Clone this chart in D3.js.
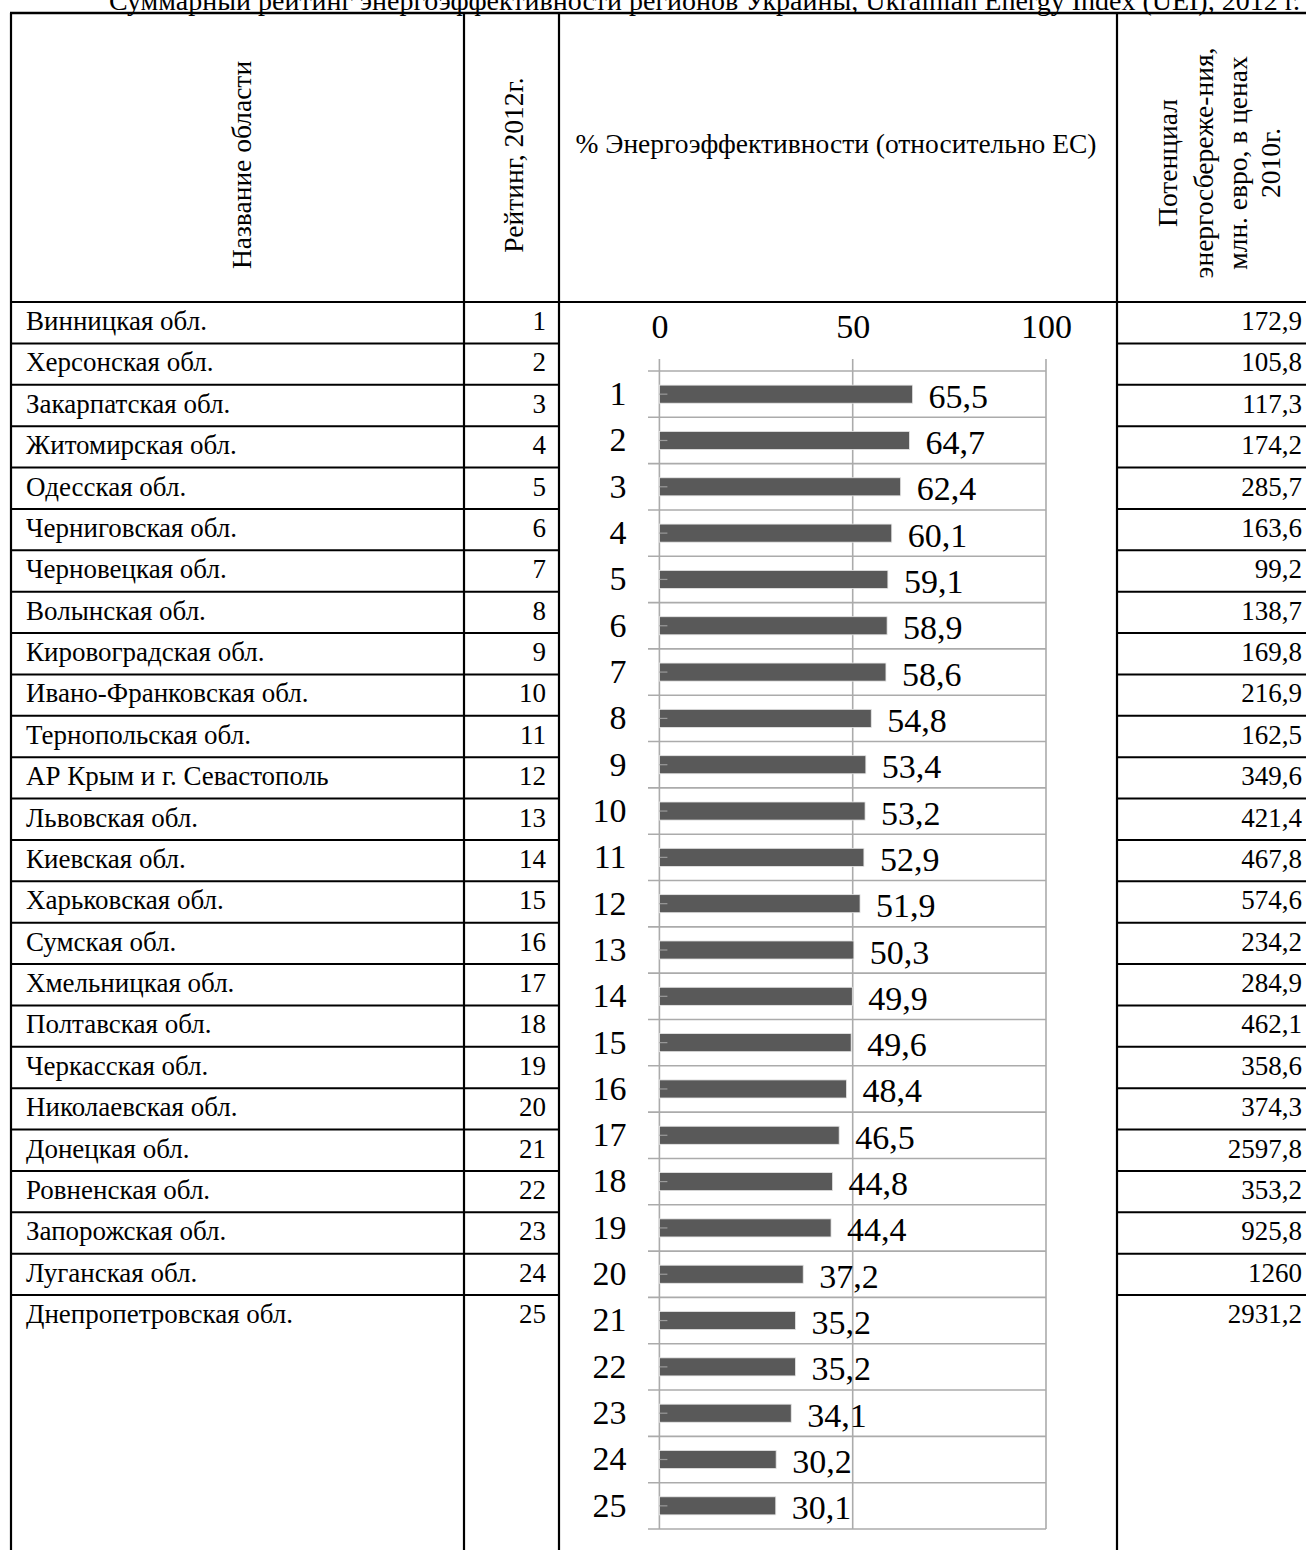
<!DOCTYPE html>
<html><head><meta charset="utf-8">
<script src="https://cdn.jsdelivr.net/npm/d3@7"></script>
<style>
html,body{margin:0;padding:0;background:#fff;}
svg{display:block;}
text{font-family:"Liberation Serif","Times New Roman",serif;fill:#000;}
</style></head>
<body>
<script>
const title = "Суммарный рейтинг энергоэффективности регионов Украины, Ukrainian Energy Index (UEI), 2012 г.";
const regions = ["Винницкая обл.","Херсонская обл.","Закарпатская обл.","Житомирская обл.","Одесская обл.","Черниговская обл.","Черновецкая обл.","Волынская обл.","Кировоградская обл.","Ивано-Франковская обл.","Тернопольская обл.","АР Крым и г. Севастополь","Львовская обл.","Киевская обл.","Харьковская обл.","Сумская обл.","Хмельницкая обл.","Полтавская обл.","Черкасская обл.","Николаевская обл.","Донецкая обл.","Ровненская обл.","Запорожская обл.","Луганская обл.","Днепропетровская обл."];
const ranks = [1,2,3,4,5,6,7,8,9,10,11,12,13,14,15,16,17,18,19,20,21,22,23,24,25];
const efficiency = [65.5,64.7,62.4,60.1,59.1,58.9,58.6,54.8,53.4,53.2,52.9,51.9,50.3,49.9,49.6,48.4,46.5,44.8,44.4,37.2,35.2,35.2,34.1,30.2,30.1];
const potential = [172.9,105.8,117.3,174.2,285.7,163.6,99.2,138.7,169.8,216.9,162.5,349.6,421.4,467.8,574.6,234.2,284.9,462.1,358.6,374.3,2597.8,353.2,925.8,1260,2931.2];
const xTicks = [0,50,100];
const headerName = "Название области";
const headerRank = "Рейтинг, 2012г.";
const headerChart = "% Энергоэффективности (относительно ЕС)";
const headerPotential = ["Потенциал","энергосбереже-ния,","млн. евро, в ценах","2010г."];

const W = 1306, H = 1550;
const svg = d3.select("body").append("svg").attr("width", W).attr("height", H);
svg.append("rect").attr("width", W).attr("height", H).attr("fill", "#fff");

const comma = v => (Number.isInteger(v) ? String(v) : d3.format(".1f")(v)).replace(".", ",");

// table geometry
const colX = [11, 464, 559, 1117];
const tableTop = 13, headTop = 302, rowH = 41.375;
const bodyFont = 27, headFont = 27.5;

// title (cut at top, as in the source page)
svg.append("text").attr("x", 1300).attr("y", 10).attr("text-anchor", "end")
  .attr("font-size", 28).text(title);

// rows grid
const rowLines = d3.range(1, 25).map(k => headTop + k * rowH);
const g = svg.append("g");
g.append("line").attr("x1", 10).attr("x2", W).attr("y1", tableTop).attr("y2", tableTop).attr("stroke", "#000").attr("stroke-width", 2.5);
g.append("line").attr("x1", 10).attr("x2", W).attr("y1", headTop).attr("y2", headTop).attr("stroke", "#000").attr("stroke-width", 2);
colX.forEach(x => g.append("line").attr("x1", x).attr("x2", x).attr("y1", tableTop).attr("y2", H).attr("stroke", "#000").attr("stroke-width", 2.2));
g.selectAll(".rl").data(rowLines).join("line").attr("x1", 10).attr("x2", colX[2]).attr("y1", d => d).attr("y2", d => d).attr("stroke", "#000").attr("stroke-width", 2);
g.selectAll(".rr").data(rowLines).join("line").attr("x1", colX[3]).attr("x2", W).attr("y1", d => d).attr("y2", d => d).attr("stroke", "#000").attr("stroke-width", 2);

// header texts
svg.append("text").attr("transform", "translate(251,165) rotate(-90)").attr("text-anchor", "middle")
  .attr("font-size", headFont).text(headerName);
svg.append("text").attr("transform", "translate(523,165) rotate(-90)").attr("text-anchor", "middle")
  .attr("font-size", headFont).text(headerRank);
svg.append("text").attr("x", 836).attr("y", 153).attr("text-anchor", "middle")
  .attr("font-size", headFont).text(headerChart);
const potX = [1177, 1213, 1247, 1280];
headerPotential.forEach((t, i) => {
  svg.append("text").attr("transform", `translate(${potX[i]},163) rotate(-90)`).attr("text-anchor", "middle")
    .attr("font-size", headFont).text(t);
});

// body texts
const rowTop = i => headTop + i * rowH;
svg.selectAll(".nm").data(regions).join("text").attr("x", 26).attr("y", (d, i) => rowTop(i) + 28)
  .attr("font-size", bodyFont).text(d => d);
svg.selectAll(".rk").data(ranks).join("text").attr("x", 546).attr("y", (d, i) => rowTop(i) + 28)
  .attr("text-anchor", "end").attr("font-size", bodyFont).text(d => d);
svg.selectAll(".pt").data(potential).join("text").attr("x", 1302).attr("y", (d, i) => rowTop(i) + 28)
  .attr("text-anchor", "end").attr("font-size", bodyFont).text(d => comma(d));

// chart
const x = d3.scaleLinear().domain([0, 100]).range([659.4, 1046]);
const y = d3.scaleBand().domain(ranks).range([371, 1529]).paddingInner(0.61).paddingOuter(0.305);
const step = y.step();
const bounds = d3.range(0, 26).map(k => 371 + k * step);
const grid = "#ababab";
const cg = svg.append("g");
cg.selectAll(".hg").data(bounds).join("line").attr("x1", 648).attr("x2", x(100))
  .attr("y1", d => d).attr("y2", d => d).attr("stroke", grid).attr("stroke-width", 1.6);
cg.selectAll(".vg").data(xTicks).join("line").attr("x1", d => x(d)).attr("x2", d => x(d))
  .attr("y1", 359).attr("y2", 1529).attr("stroke", grid).attr("stroke-width", 1.6);

const axT = cg.append("g").attr("transform", "translate(0,371)")
  .call(d3.axisTop(x).tickValues(xTicks).tickSize(0).tickPadding(33).tickFormat(d3.format("d")));
axT.select(".domain").remove();
axT.selectAll("text").attr("font-size", 34).attr("font-family", "Liberation Serif").attr("fill", "#000");

const axL = cg.append("g").attr("transform", "translate(659.4,0)")
  .call(d3.axisLeft(y).tickSize(0).tickPadding(33));
axL.select(".domain").remove();
axL.selectAll("text").attr("font-size", 34).attr("font-family", "Liberation Serif").attr("fill", "#000");

const data = ranks.map((r, i) => ({ r, v: efficiency[i] }));
cg.selectAll(".bar").data(data).join("rect")
  .attr("x", x(0)).attr("y", d => y(d.r)).attr("width", d => x(d.v) - x(0)).attr("height", y.bandwidth())
  .attr("fill", "#595959").attr("stroke", "#e6e6e6").attr("stroke-width", 0.8);
cg.selectAll(".mk").data(data).join("line")
  .attr("x1", x(0)).attr("x2", x(0) + 8).attr("y1", d => y(d.r) + y.bandwidth() / 2).attr("y2", d => y(d.r) + y.bandwidth() / 2)
  .attr("stroke", "#9a9a9a").attr("stroke-width", 1.2);
cg.selectAll(".vl").data(data).join("text")
  .attr("x", d => x(d.v) + 16).attr("y", d => y(d.r) + y.bandwidth() / 2 + 2)
  .attr("dominant-baseline", "central").attr("font-size", 34).text(d => comma(d.v));
</script>
</body></html>
